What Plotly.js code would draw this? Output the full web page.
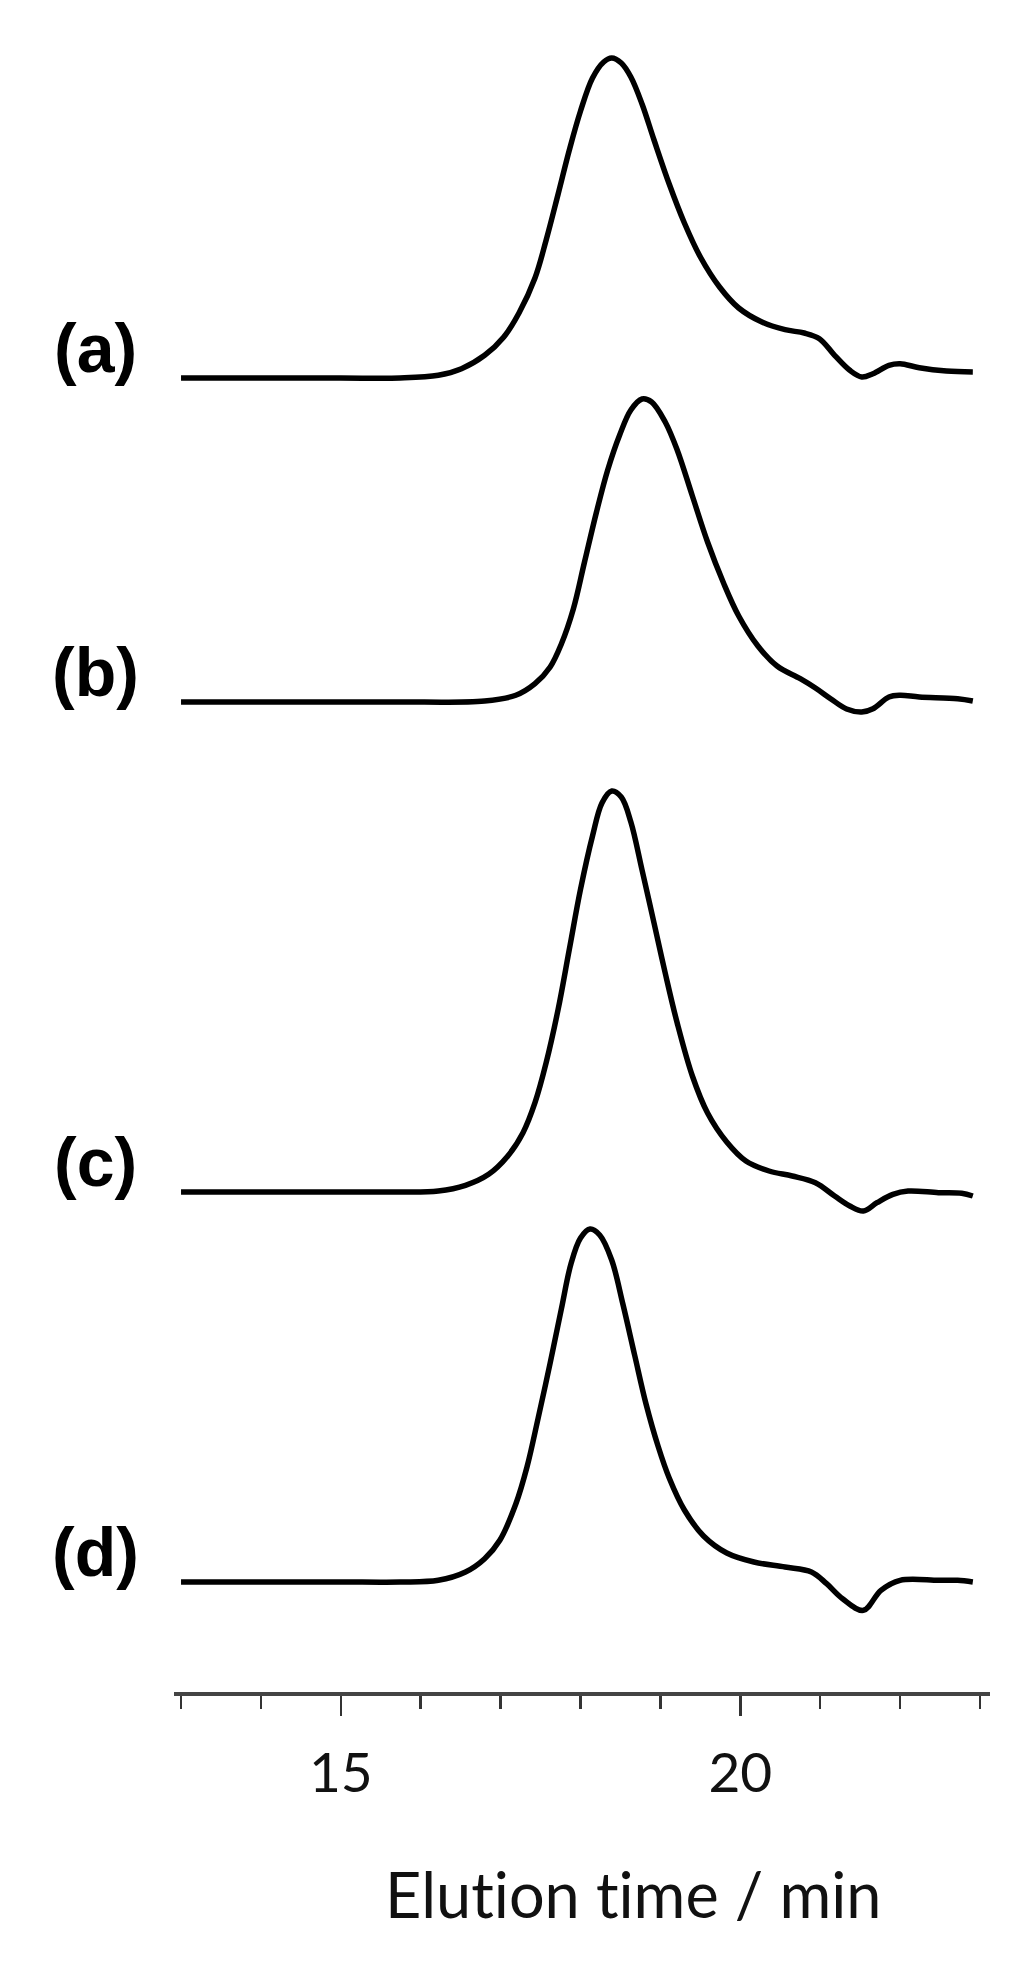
<!DOCTYPE html>
<html>
<head>
<meta charset="utf-8">
<script src="https://cdn.plot.ly/plotly-3.0.1.min.js"></script>
<style>
html,body{margin:0;padding:0;background:#fff;}
#chart{width:1030px;height:1961px;}
#chart text{font-variant-ligatures:none;font-feature-settings:"liga" 0;}
</style>
</head>
<body>
<div id="chart"></div>
<script>
// Elution time (min) and detector signal (arbitrary units, baseline = 0) for each trace
const time_a = [13.0, 14.0, 15.0, 15.74, 16.22, 16.51, 16.80, 17.04, 17.23, 17.43, 17.57, 17.72, 17.86, 18.00, 18.15, 18.29, 18.39, 18.51, 18.63, 18.77, 18.92, 19.11, 19.30, 19.50, 19.74, 19.98, 20.27, 20.56, 20.80, 20.99, 21.18, 21.37, 21.52, 21.66, 21.86, 22.00, 22.24, 22.58, 22.91];
const signal_a = [0, 0, 0, 0, 2.7, 9.3, 22.7, 41, 65, 100, 138, 184, 228, 267, 300, 316, 320, 315, 301, 274, 238, 194, 155, 121, 91, 70, 56, 48.3, 45, 39.3, 22.7, 7.7, 1, 4.3, 12.7, 14.3, 10.3, 7, 6];

const time_b = [13.0, 14.0, 15.0, 15.74, 16.80, 17.19, 17.43, 17.62, 17.76, 17.91, 18.05, 18.20, 18.34, 18.49, 18.63, 18.77, 18.89, 19.06, 19.21, 19.40, 19.59, 19.79, 19.98, 20.22, 20.46, 20.75, 20.94, 21.13, 21.33, 21.52, 21.66, 21.86, 22.00, 22.24, 22.72, 22.91];
const signal_b = [0, 0, 0, 0, 1, 6.7, 18.3, 35, 58, 93, 140, 190, 232, 267, 292, 303, 300, 280, 252, 206, 160, 119, 86, 56, 36, 23.3, 14, 3.3, -7, -10, -6.7, 5, 6.7, 5, 3.3, 1];

const time_c = [13.0, 14.0, 15.0, 15.74, 16.22, 16.56, 16.85, 17.09, 17.28, 17.43, 17.57, 17.72, 17.86, 18.00, 18.15, 18.27, 18.39, 18.51, 18.63, 18.77, 18.92, 19.06, 19.21, 19.40, 19.59, 19.83, 20.07, 20.36, 20.65, 20.94, 21.18, 21.37, 21.54, 21.71, 21.91, 22.10, 22.48, 22.77, 22.91];
const signal_c = [0, 0, 0, 0, 1, 6.7, 17.7, 36, 59.3, 89.3, 129.3, 182.7, 242.7, 302.7, 356, 389.3, 401, 395, 370, 322, 269, 219, 169, 116, 79, 50, 31, 21, 16, 9.3, -4, -14, -19, -10.7, -2.3, 1, -0.7, -1.3, -4];

const time_d = [13.0, 14.0, 15.0, 15.74, 16.22, 16.56, 16.80, 16.99, 17.19, 17.33, 17.47, 17.62, 17.76, 17.88, 18.00, 18.12, 18.24, 18.39, 18.53, 18.68, 18.82, 18.97, 19.11, 19.30, 19.54, 19.83, 20.17, 20.56, 20.89, 21.08, 21.28, 21.54, 21.76, 22.00, 22.48, 22.72, 22.91];
const signal_d = [0, 0, 0, 0, 1.7, 10, 23.3, 41.7, 78, 115, 164, 219, 273, 318, 344, 353, 347, 322, 278, 226, 178, 136, 104, 72, 46, 29, 20, 15, 10, -1.7, -16.7, -28.3, -8.3, 1.7, 1.7, 1.7, 0];

// Vertical stacking offsets of the four traces and their labels
const traceLabels = ['(a)', '(b)', '(c)', '(d)'];
const traceOffsets = [1314, 990, 500, 110];

// Axis ticks
const tickValues = [15, 20];
const tickLabels = ['15', '20'];
const axisTitle = 'Elution time / min';

const times = [time_a, time_b, time_c, time_d];
const signals = [signal_a, signal_b, signal_c, signal_d];

const traces = times.map((t, i) => ({
  x: t,
  y: signals[i].map(v => v + traceOffsets[i]),
  type: 'scatter',
  mode: 'lines',
  line: {color: '#000', width: 5.5, shape: 'spline', smoothing: 1.0},
  name: traceLabels[i],
  hoverinfo: 'skip'
}));

const annotations = traceLabels.map((lab, i) => ({
  text: '<b>' + lab + '</b>',
  x: -0.0956, xref: 'paper',
  y: traceOffsets[i] + 30, yref: 'y',
  xanchor: 'center', yanchor: 'middle',
  showarrow: false,
  font: {family: 'Liberation Sans, Arial, sans-serif', size: 68, color: '#000'}
}));
annotations.push({
  text: axisTitle,
  x: 0.5637, xref: 'paper',
  y: -0.1208, yref: 'paper',
  xanchor: 'center', yanchor: 'middle',
  showarrow: false,
  font: {family: 'Lato, sans-serif', size: 63, color: '#111'}
});

const layout = {
  width: 1030,
  height: 1961,
  margin: {l: 174, r: 40, t: 20, b: 269},
  paper_bgcolor: '#fff',
  plot_bgcolor: '#fff',
  showlegend: false,
  xaxis: {
    range: [12.912, 23.125],
    tickmode: 'array',
    tickvals: tickValues,
    ticktext: tickLabels,
    ticks: 'outside',
    ticklen: 20,
    tickwidth: 2.5,
    tickcolor: '#333',
    showline: true,
    linecolor: '#444',
    linewidth: 4,
    showgrid: false,
    zeroline: false,
    ticklabelstandoff: 10,
    tickfont: {family: 'Lato, sans-serif', size: 55, color: '#111'},
    minor: {tick0: 13, dtick: 1, ticks: 'outside', ticklen: 13, tickwidth: 2.5, tickcolor: '#333', showgrid: false},
    fixedrange: true
  },
  yaxis: {
    range: [0, 1672],
    visible: false,
    showgrid: false,
    zeroline: false,
    fixedrange: true
  },
  annotations: annotations
};

Plotly.newPlot('chart', traces, layout, {staticPlot: true, displayModeBar: false});
</script>
</body>
</html>
